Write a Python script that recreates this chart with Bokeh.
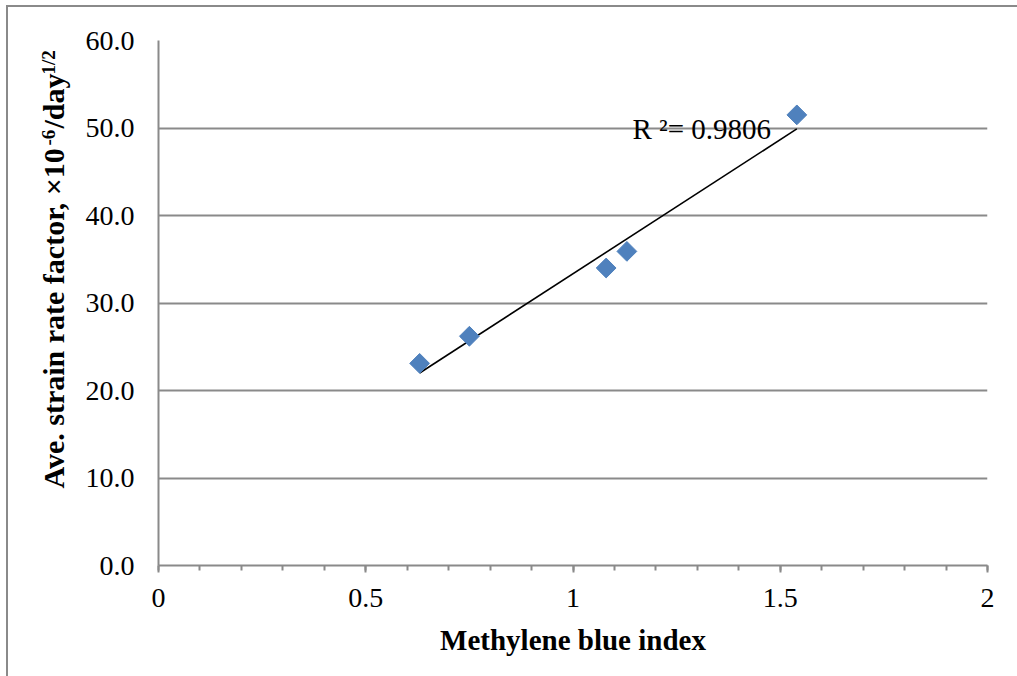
import numpy as np
from bokeh.plotting import figure
from bokeh.layouts import row
from bokeh.models import Label, Range1d, FixedTicker, NumeralTickFormatter, ColumnDataSource
from bokeh.core.properties import value
from bokeh.embed import file_html
from bokeh.resources import INLINE

# ---- data ----
mb_index = [0.63, 0.75, 1.08, 1.13, 1.54]
strain_rate = [23.1, 26.2, 34.0, 35.9, 51.5]
r_squared_text = "R ²= 0.9806"
x_ticks = [0, 0.5, 1, 1.5, 2]
x_tick_labels = ["0", "0.5", "1", "1.5", "2"]
x_minor = [round(0.1 * i, 1) for i in range(21)]
y_ticks = [0, 10, 20, 30, 40, 50, 60]
y_label_parts = ["Ave. strain rate factor, ×10", "-6", "/day", "1/2"]

slope, intercept = np.polyfit(mb_index, strain_rate, 1)
fit_x = [min(mb_index), max(mb_index)]
fit_y = [slope * v + intercept for v in fit_x]

FONT = "Liberation Serif"
GRAY = "#8a8a8a"
H = 669
FRAME_H = 525  # the row aligns this panel's frame with the chart's frame

# ---- narrow panel holding the rotated y-axis title (with superscripts) ----
LAB_W = 66
lab = figure(width=LAB_W, height=H, output_backend="svg", toolbar_location=None,
             x_range=Range1d(0, LAB_W), y_range=Range1d(0, FRAME_H),
             min_border_left=0, min_border_right=0,
             min_border_top=33, min_border_bottom=111)
lab.axis.visible = False
lab.grid.visible = False
lab.outline_line_color = None
lab.border_fill_color = "white"
# pixel placement of each piece inside this panel (x from left, y up from frame bottom)
lab_src = ColumnDataSource(dict(
    x=[45, 40, 45, 40],
    y=[77, 420, 437, 491],
    text=y_label_parts,
    size=["30px", "19px", "30px", "19px"],
))
lab.text(x="x", y="y", text="text", source=lab_src, angle=np.pi / 2,
         text_align="left", text_baseline="alphabetic", text_font=value(FONT),
         text_font_size="size", text_font_style="bold", text_color="black")

# ---- main chart ----
p = figure(width=1009 - LAB_W, height=H, output_backend="svg", toolbar_location=None,
           x_range=Range1d(0, 2), y_range=Range1d(0, 60),
           min_border_left=158 - 8 - LAB_W, min_border_right=30,
           min_border_top=33, min_border_bottom=111)
p.outline_line_color = None
p.background_fill_color = "white"
p.border_fill_color = "white"

p.xgrid.grid_line_color = None
p.ygrid.ticker = FixedTicker(ticks=y_ticks)
p.ygrid.grid_line_color = GRAY
p.ygrid.grid_line_width = 2

p.xaxis.ticker = FixedTicker(ticks=x_ticks, minor_ticks=x_minor)
p.xaxis.major_label_overrides = {t: l for t, l in zip(x_ticks, x_tick_labels)}
p.xaxis.axis_line_color = GRAY
p.xaxis.axis_line_width = 2
p.xaxis.major_tick_line_color = GRAY
p.xaxis.minor_tick_line_color = GRAY
p.xaxis.major_tick_line_width = 2
p.xaxis.minor_tick_line_width = 2
p.xaxis.major_tick_in = 0
p.xaxis.major_tick_out = 7
p.xaxis.minor_tick_in = 0
p.xaxis.minor_tick_out = 5
p.xaxis.major_label_text_font = FONT
p.xaxis.major_label_text_font_size = "28px"
p.xaxis.major_label_text_color = "black"
p.xaxis.major_label_standoff = 16
p.xaxis.axis_label = "Methylene blue index"
p.xaxis.axis_label_text_font = FONT
p.xaxis.axis_label_text_font_size = "29px"
p.xaxis.axis_label_text_font_style = "bold"
p.xaxis.axis_label_text_color = "black"
p.xaxis.axis_label_standoff = 14

p.yaxis.ticker = FixedTicker(ticks=y_ticks)
p.yaxis.formatter = NumeralTickFormatter(format="0.0")
p.yaxis.axis_line_color = GRAY
p.yaxis.axis_line_width = 2
p.yaxis.major_tick_line_color = None
p.yaxis.minor_tick_line_color = None
p.yaxis.major_tick_in = 0
p.yaxis.major_tick_out = 0
p.yaxis.major_label_text_font = FONT
p.yaxis.major_label_text_font_size = "28px"
p.yaxis.major_label_text_color = "black"
p.yaxis.major_label_standoff = 24

p.line(fit_x, fit_y, line_color="black", line_width=1.6)
p.scatter(mb_index, strain_rate, marker="square", size=14, angle=np.pi / 4,
          fill_color="#4F81BD", line_color="#4F81BD")

p.add_layout(Label(x=1.1435, y=49.9, text=r_squared_text, text_align="left",
                   text_baseline="alphabetic", text_font=FONT, text_font_size="29px",
                   text_color="black"))

layout = row(lab, p, spacing=0)
layout.margin = (5, 0, 0, 6)
layout.styles = {"border-left": f"2px solid {GRAY}", "border-top": f"2px solid {GRAY}"}

open("out.html", "w").write(file_html(layout, INLINE))
